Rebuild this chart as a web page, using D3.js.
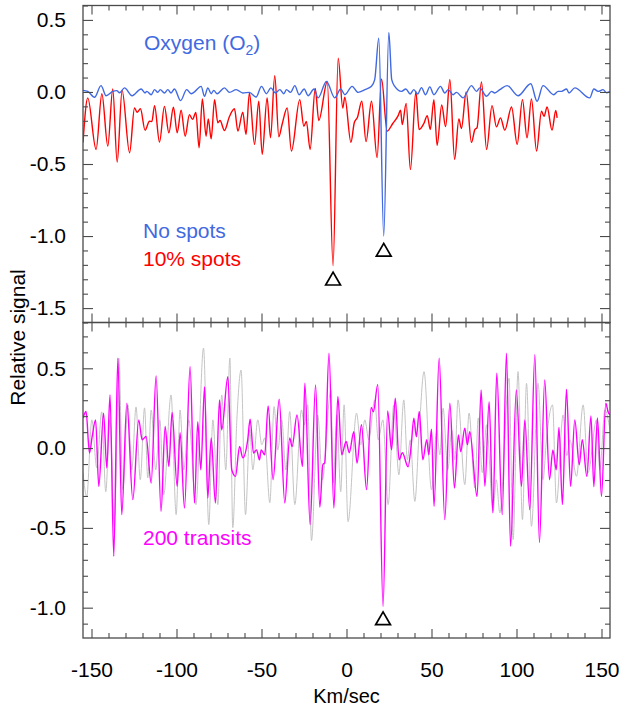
<!DOCTYPE html>
<html>
<head>
<meta charset="utf-8">
<script src="https://cdn.jsdelivr.net/npm/d3@7"></script>
<style>
html,body{margin:0;padding:0;background:#fff;}
svg{display:block;}
text{font-family:"Liberation Sans",Arial,sans-serif;}
</style>
</head>
<body>
<svg id="chart" width="619" height="706"></svg>
<script>
// ---------------- DATA ----------------
const xMajorTicks = [-150, -100, -50, 0, 50, 100, 150];
const xTickLabels = ["-150", "-100", "-50", "0", "50", "100", "150"];
const yTopMajorTicks = [0.5, 0.0, -0.5, -1.0, -1.5];
const yTopTickLabels = ["0.5", "0.0", "-0.5", "-1.0", "-1.5"];
const yBotMajorTicks = [0.5, 0.0, -0.5, -1.0];
const yBotTickLabels = ["0.5", "0.0", "-0.5", "-1.0"];

// Oxygen, no spots (blue)  [km/s, relative signal]
const noSpots = [[-155,0.011],[-152.2,0.004],[-148.2,-0.037],[-144.4,0.044],[-141.4,-0.026],[-137.5,0.004],[-135.1,0.009],[-133.5,-0.005],[-130.6,0.028],[-126.1,-0.026],[-120.8,0.021],[-118.5,-0.007],[-117.5,0.004],[-114.9,-0.019],[-112.9,0.016],[-111.0,-0.003],[-109.6,0.016],[-107.1,-0.007],[-105.1,0.016],[-103.2,-0.007],[-101.2,0.021],[-97.6,-0.060],[-94.0,0.016],[-91.4,-0.012],[-89.8,-0.003],[-85.5,0.039],[-83.5,-0.030],[-81.6,0.028],[-79.6,-0.012],[-78.1,0.011],[-76.1,-0.012],[-71.8,0.028],[-68.8,-0.003],[-64.9,0.016],[-61.0,-0.007],[-57.1,-0.003],[-53.2,-0.035],[-50.0,0.039],[-47.1,-0.012],[-44.5,0.028],[-41.8,-0.007],[-39.2,0.016],[-36.9,-0.012],[-35.3,0.016],[-32.9,-0.003],[-30.4,0.044],[-27.9,-0.019],[-24.9,0.021],[-22.6,-0.026],[-19.1,0.021],[-16.7,-0.041],[-11.8,0.073],[-6.9,-0.041],[-3.4,0.021],[-1.0,-0.019],[3.3,0.039],[6.8,-0.003],[10.8,0.016],[14.7,0.039],[16.6,0.085],[19.0,0.373],[21.9,-1.0],[24.9,0.413],[26.6,0.085],[28.4,0.039],[32.4,0.004],[34.9,0.021],[37.4,-0.014],[39.6,0.016],[41.9,-0.014],[44.1,0.030],[46.5,-0.019],[49.0,0.035],[51.4,-0.019],[55.3,0.039],[57.8,-0.007],[59.8,0.016],[62.7,-0.019],[64.7,-0.003],[68.6,-0.041],[73.5,0.044],[76.5,0.004],[78.4,0.028],[82.4,-0.030],[85.3,0.004],[87.2,-0.007],[90.2,0.016],[94.5,0.044],[100.9,-0.026],[108.4,0.057],[112.1,-0.065],[115.6,0.044],[121.9,-0.019],[124.5,0.004],[126.5,0.004],[129.4,0.021],[130.9,-0.007],[134.3,0.028],[143.1,-0.041],[145.5,0.021],[148.0,0.004],[150.9,0.016],[152.9,-0.005],[155,0.004]];

// Oxygen, 10% spots (red)
const spots10 = [[-155,-0.350],[-152.2,-0.041],[-147.3,-0.399],[-143.9,-0.012],[-140.4,-0.376],[-137.5,0.021],[-134.9,-0.487],[-132.0,0.011],[-127.6,-0.422],[-124.7,-0.111],[-123.2,-0.141],[-121.2,-0.117],[-118.5,-0.265],[-115.9,-0.203],[-114.5,-0.205],[-112.9,-0.095],[-110.0,-0.348],[-107.1,-0.100],[-104.5,-0.283],[-101.8,-0.106],[-99.6,-0.283],[-97.3,-0.127],[-94.9,-0.307],[-92.4,-0.157],[-90.6,-0.190],[-88.6,-0.143],[-86.7,-0.387],[-84.8,-0.048],[-82.6,-0.307],[-81.3,-0.187],[-79.6,-0.325],[-77.6,-0.053],[-75.7,-0.214],[-74.4,-0.198],[-71.8,-0.267],[-68.8,-0.169],[-65.9,-0.117],[-63.9,-0.272],[-61.0,-0.141],[-59.1,-0.295],[-57.1,-0.007],[-54.1,-0.364],[-51.6,-0.065],[-49.6,-0.433],[-46.7,-0.041],[-44.7,-0.318],[-42.2,0.113],[-39.8,-0.311],[-37.9,-0.226],[-34.9,-0.111],[-32.4,-0.410],[-27.5,-0.053],[-25.1,-0.238],[-23.6,-0.205],[-21.4,-0.399],[-18.4,0.024],[-16.3,-0.198],[-11.3,0.073],[-7.9,-1.205],[-4.9,0.235],[-2.2,-0.111],[-1.0,-0.036],[2.6,-0.350],[4.6,-0.212],[6.4,-0.178],[9.0,-0.065],[11.5,-0.345],[14.7,-0.065],[18.0,-0.456],[20.6,0.090],[23.9,-0.272],[27.2,-0.219],[30.4,-0.164],[31.8,-0.127],[32.8,-0.226],[35.1,-0.079],[37.6,-0.539],[40.8,0.001],[42.7,-0.261],[45.5,-0.219],[47.5,-0.164],[49.3,-0.261],[51.4,-0.053],[53.3,-0.371],[56.0,-0.091],[58.3,-0.240],[60.8,0.087],[63.6,-0.468],[66.1,-0.187],[67.6,-0.254],[70.4,0.000],[73.5,-0.350],[75.5,-0.261],[76.8,-0.247],[79.4,0.070],[82.4,-0.399],[85.6,-0.095],[88.2,-0.242],[90.6,-0.180],[93.1,-0.265],[97.1,-0.104],[100.4,-0.364],[103.5,-0.053],[106.2,-0.318],[108.8,-0.048],[111.8,-0.410],[114.7,-0.134],[116.2,-0.169],[118.0,-0.104],[120.9,-0.265],[123.1,-0.129],[123.9,-0.180]];

// 200 transits (magenta)
const transits200 = [[-155,0.189],[-153.2,0.229],[-151.2,-0.031],[-149.6,0.073],[-147.6,0.177],[-145.7,-0.240],[-142.9,0.219],[-141.0,-0.125],[-139.1,0.333],[-136.9,-0.678],[-134.5,0.563],[-132.2,-0.417],[-129.2,0.281],[-125.7,-0.323],[-122.2,0.177],[-120.2,0.052],[-117.9,0.073],[-114.9,-0.219],[-112.0,0.452],[-109.1,-0.396],[-106.7,0.135],[-104.5,-0.115],[-102.6,0.223],[-99.6,-0.240],[-97.9,0.096],[-95.3,-0.375],[-92.0,0.510],[-89.4,-0.344],[-87.5,0.166],[-85.7,-0.136],[-83.5,0.385],[-81.6,-0.313],[-79.6,0.064],[-77.1,-0.344],[-74.7,0.302],[-73.4,0.114],[-69.8,0.448],[-67.5,-0.136],[-65.3,-0.177],[-62.9,0.010],[-61.0,-0.061],[-58.1,0.052],[-56.7,0.181],[-54.7,-0.031],[-52.9,-0.011],[-51.2,-0.073],[-50.2,-0.011],[-48.1,-0.042],[-46.1,0.264],[-43.2,-0.198],[-39.6,0.306],[-36.3,-0.344],[-33.4,0.063],[-32.0,0.010],[-29.1,0.208],[-25.9,-0.115],[-24.5,0.406],[-21.4,-0.479],[-18.2,0.396],[-15.7,-0.370],[-13.9,-0.104],[-12.8,-0.092],[-10.3,0.594],[-7.4,-0.375],[-5.1,0.323],[-2.8,-0.042],[-0.2,0.041],[1.6,-0.029],[4.3,0.102],[6.2,-0.094],[8.8,0.146],[11.8,-0.261],[14.5,0.255],[15.8,0.227],[18.4,0.399],[21.5,-0.992],[24.2,0.233],[26.5,-0.011],[28.7,0.313],[30.9,-0.073],[32.9,-0.029],[36.2,-0.117],[38.1,0.021],[39.6,0.188],[41.1,0.071],[42.8,0.229],[44.9,-0.073],[47.2,0.052],[48.4,-0.042],[50.0,0.119],[51.5,-0.365],[54.5,0.563],[57.8,-0.448],[60.8,0.281],[63.5,-0.250],[65.8,0.083],[67.2,-0.023],[69.6,0.125],[71.1,0.021],[72.5,0.102],[76.8,-0.303],[79.2,0.364],[81.4,-0.240],[83.9,0.291],[86.1,-0.406],[88.4,0.469],[91.6,-0.417],[94.1,0.594],[96.5,-0.615],[99.9,0.364],[102.9,-0.240],[104.9,0.177],[107.8,-0.386],[110.8,0.586],[113.5,-0.592],[116.6,0.427],[119.4,-0.198],[121.4,-0.011],[123.4,-0.136],[125.0,0.130],[127.0,-0.354],[129.4,0.369],[131.8,-0.240],[134.3,0.177],[136.9,-0.104],[138.7,0.052],[141.4,-0.177],[143.8,0.202],[145.5,-0.242],[147.6,0.189],[150.0,-0.303],[152.5,0.281],[153.9,0.227],[155,0.208]];

// comparison curve (light grey)
const greyCurve = [[-155,-0.154],[-152.8,-0.304],[-149.8,0.177],[-146.9,-0.123],[-144.0,0.227],[-141.6,-0.273],[-139.2,0.177],[-136.5,-0.492],[-133.9,0.564],[-131.6,-0.261],[-128.6,0.271],[-126.3,-0.136],[-123.8,0.258],[-121.3,-0.198],[-118.8,0.252],[-116.9,-0.186],[-114.9,0.239],[-112.2,-0.136],[-109.8,0.177],[-107.5,-0.292],[-103.2,0.333],[-100.2,-0.417],[-97.9,0.239],[-95.7,-0.136],[-92.8,0.177],[-88.6,-0.354],[-84.1,0.627],[-81.0,-0.479],[-78.6,0.177],[-75.7,-0.354],[-73.4,0.333],[-71.0,-0.136],[-68.6,0.564],[-66.9,-0.498],[-64.5,0.177],[-62.0,0.489],[-59.4,-0.417],[-56.9,0.114],[-55.1,-0.136],[-52.2,0.177],[-49.8,0.021],[-48.1,0.064],[-45.1,-0.342],[-42.6,0.260],[-40.4,-0.011],[-38.1,0.177],[-35.7,-0.136],[-33.4,0.229],[-30.4,-0.354],[-26.5,0.239],[-24.8,0.146],[-22.8,0.271],[-20.6,-0.579],[-16.9,0.208],[-14.2,-0.198],[-9.2,0.365],[-7.8,-0.217],[-5.7,0.208],[-3.4,-0.273],[-1.4,0.271],[0.9,-0.461],[5.9,0.219],[8.4,0.021],[10.8,0.177],[13.1,0.052],[16.6,0.302],[18.7,0.052],[21.4,0.177],[24.5,-0.354],[27.8,0.271],[30.8,-0.167],[33.7,0.302],[35.8,-0.073],[37.5,0.052],[40.2,-0.334],[42.8,0.114],[45.6,0.479],[50.0,-0.261],[53.1,0.114],[54.9,-0.042],[56.8,0.250],[59.6,-0.136],[61.9,0.114],[63.7,-0.073],[65.6,0.302],[69.6,-0.229],[72.1,0.219],[75.5,-0.250],[77.5,0.189],[79.9,-0.154],[82.4,0.146],[86.2,-0.396],[88.1,-0.198],[90.2,-0.406],[95.6,0.438],[98.0,-0.573],[100.9,0.479],[103.5,-0.448],[105.9,0.406],[108.8,-0.490],[112.7,0.406],[115.6,-0.198],[117.6,0.052],[121.2,0.271],[123.5,-0.344],[127.4,0.208],[129.6,-0.048],[131.4,0.052],[135.3,-0.177],[139.2,0.271],[142.1,-0.154],[147.1,0.177],[149.0,-0.136],[152.0,0.239],[155,0.114]];

// detection markers (open triangles): [km/s, signal]
const topMarkers = [[-7.9, -1.31], [21.9, -1.11]];
const bottomMarkers = [[21.5, -1.08]];

// ---------------- LAYOUT ----------------
const svg = d3.select("#chart");
const L = 83, R = 610;
const topPanel = {t: 5.5, b: 322.5};
const botPanel = {t: 322.5, b: 638};
const FONT = 21;

const x = d3.scaleLinear().domain([-155, 155]).range([L, R]);
const yTop = d3.scaleLinear().domain([-1.6, 0.6]).range([topPanel.b, topPanel.t]);
const yBot = d3.scaleLinear().domain([-1.19, 0.787]).range([botPanel.b, botPanel.t]);

const frameColor = "#4a4a4a";
const xMinor = d3.range(-150, 151, 10).filter(v => v % 50 !== 0);

function addClip(id, p) {
  svg.append("clipPath").attr("id", id).append("rect")
    .attr("x", L).attr("y", p.t).attr("width", R - L).attr("height", p.b - p.t);
}
addClip("clipTop", topPanel);
addClip("clipBot", botPanel);

function drawTicks(p, y, yMajor, yMinor, labels) {
  const g = svg.append("g");
  const styleAxis = sel => {
    sel.select(".domain").remove();
    sel.selectAll(".tick line").attr("stroke", frameColor).attr("stroke-width", 1.1);
    sel.selectAll(".tick text").attr("fill", "#000").style("font-size", FONT + "px")
      .style("font-family", '"Liberation Sans",Arial,sans-serif');
  };
  // bottom
  g.append("g").attr("transform", `translate(0,${p.b})`)
    .call(d3.axisBottom(x).tickValues(xMajorTicks).tickSize(-9)
      .tickFormat((d, i) => labels ? xTickLabels[i] : "").tickPadding(24))
    .call(styleAxis);
  g.append("g").attr("transform", `translate(0,${p.b})`)
    .call(d3.axisBottom(x).tickValues(xMinor).tickSize(-5).tickFormat(""))
    .call(styleAxis);
  // top
  g.append("g").attr("transform", `translate(0,${p.t})`)
    .call(d3.axisTop(x).tickValues(xMajorTicks).tickSize(-9).tickFormat(""))
    .call(styleAxis);
  g.append("g").attr("transform", `translate(0,${p.t})`)
    .call(d3.axisTop(x).tickValues(xMinor).tickSize(-5).tickFormat(""))
    .call(styleAxis);
  // left
  g.append("g").attr("transform", `translate(${L},0)`)
    .call(d3.axisLeft(y).tickValues(yMajor.ticks).tickSize(-10)
      .tickFormat((d, i) => yMajor.labels[i]).tickPadding(17))
    .call(styleAxis);
  g.append("g").attr("transform", `translate(${L},0)`)
    .call(d3.axisLeft(y).tickValues(yMinor).tickSize(-5).tickFormat(""))
    .call(styleAxis);
  // right
  g.append("g").attr("transform", `translate(${R},0)`)
    .call(d3.axisRight(y).tickValues(yMajor.ticks).tickSize(-10).tickFormat(""))
    .call(styleAxis);
  g.append("g").attr("transform", `translate(${R},0)`)
    .call(d3.axisRight(y).tickValues(yMinor).tickSize(-5).tickFormat(""))
    .call(styleAxis);
  // frame
  svg.append("rect").attr("x", L).attr("y", p.t).attr("width", R - L).attr("height", p.b - p.t)
    .attr("fill", "none").attr("stroke", frameColor).attr("stroke-width", 1.3);
}

const line = (y) => d3.line().x(d => x(d[0])).y(d => y(d[1])).curve(d3.curveMonotoneX);

function drawSeries(data, y, color, width, clip) {
  svg.append("path").datum(data)
    .attr("d", line(y))
    .attr("fill", "none").attr("stroke", color).attr("stroke-width", width)
    .attr("stroke-linejoin", "round")
    .attr("clip-path", `url(#${clip})`);
}

// top panel curves
drawSeries(spots10, yTop, "#ff0000", 1.4, "clipTop");
drawSeries(noSpots, yTop, "#4169e1", 1.4, "clipTop");
// bottom panel curves
drawSeries(greyCurve, yBot, "#c4c4c4", 1.0, "clipBot");
drawSeries(transits200, yBot, "#ff00ff", 1.4, "clipBot");

const yTopMinor = d3.range(-16, 7).map(v => v / 10).filter(v => Math.round(v * 10) % 5 !== 0);
const yBotMinor = d3.range(-11, 8).map(v => v / 10).filter(v => Math.round(v * 10) % 5 !== 0);

drawTicks(topPanel, yTop, {ticks: yTopMajorTicks, labels: yTopTickLabels}, yTopMinor, false);
drawTicks(botPanel, yBot, {ticks: yBotMajorTicks, labels: yBotTickLabels}, yBotMinor, true);

// markers
const tri = d3.symbol().type(d3.symbolTriangle).size(95);
function drawMarkers(data, y) {
  svg.selectAll(null).data(data).enter().append("path")
    .attr("d", tri)
    .attr("transform", d => `translate(${x(d[0])},${y(d[1])})`)
    .attr("fill", "none").attr("stroke", "#000").attr("stroke-width", 1.7)
    .attr("stroke-linejoin", "miter");
}
drawMarkers(topMarkers, yTop);
drawMarkers(bottomMarkers, yBot);

// annotations
const ox = svg.append("text").attr("x", 144).attr("y", 49.5)
  .attr("fill", "#4169e1").style("font-size", FONT + "px");
ox.append("tspan").text("Oxygen (O");
ox.append("tspan").text("2").style("font-size", "14px").attr("dy", 5);
ox.append("tspan").text(")").attr("dy", -5);

svg.append("text").attr("x", 143).attr("y", 237.5).attr("fill", "#4169e1")
  .style("font-size", FONT + "px").text("No spots");
svg.append("text").attr("x", 143).attr("y", 266).attr("fill", "#ff0000")
  .style("font-size", FONT + "px").text("10% spots");
svg.append("text").attr("x", 143).attr("y", 544.5).attr("fill", "#ff00ff")
  .style("font-size", FONT + "px").text("200 transits");

// axis titles
svg.append("text").attr("transform", "translate(25,337.5) rotate(-90)")
  .attr("text-anchor", "middle").attr("fill", "#000")
  .style("font-size", FONT + "px").text("Relative signal");
svg.append("text").attr("x", (L + R) / 2).attr("y", 703)
  .attr("text-anchor", "middle").attr("fill", "#000")
  .style("font-size", "20px").text("Km/sec");
</script>
</body>
</html>
